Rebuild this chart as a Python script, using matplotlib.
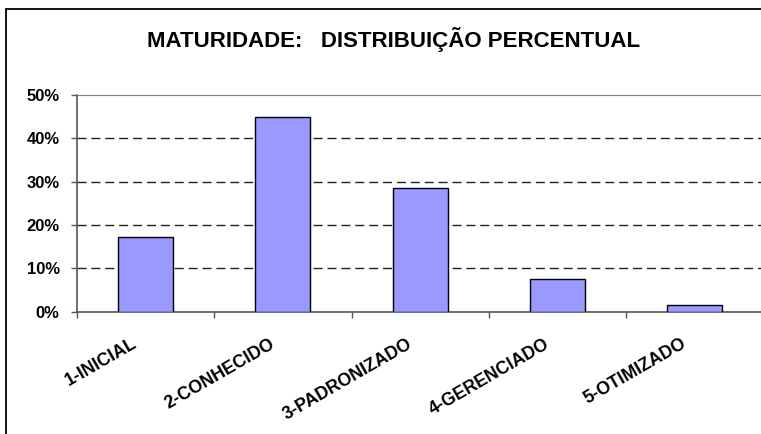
import matplotlib
matplotlib.use("Agg")
import matplotlib.pyplot as plt
from matplotlib.ticker import PercentFormatter, MultipleLocator
from matplotlib.patches import Rectangle

categories = ["1-INICIAL", "2-CONHECIDO", "3-PADRONIZADO", "4-GERENCIADO", "5-OTIMIZADO"]
values = [17.2, 44.9, 28.5, 7.6, 1.5]
title = "MATURIDADE:   DISTRIBUIÇÃO PERCENTUAL"

plt.rcParams['font.family'] = ['Liberation Sans', 'DejaVu Sans']
plt.rcParams['font.weight'] = 'bold'

W, H = 761, 434
fig = plt.figure(figsize=(W / 100, H / 100), dpi=100)
fig.patch.set_facecolor('white')

# outer chart border (extends beyond right/bottom edges)
fig.add_artist(Rectangle((6 / W, -0.2), 2.0, (H - 9) / H + 0.2, transform=fig.transFigure,
                         fill=False, edgecolor='black', linewidth=1.3, clip_on=False))

ax = fig.add_axes([77 / W, (H - 311.7) / H, (763.5 - 77) / W, (311.7 - 95) / H])
x = list(range(len(categories)))
ax.bar(x, values, width=0.4, color='#9999FF', edgecolor='black', linewidth=1.0, zorder=3)

ax.set_xlim(-0.5, len(categories) - 0.5)
ax.set_ylim(0, 50)
ax.yaxis.set_major_locator(MultipleLocator(10))
ax.yaxis.set_major_formatter(PercentFormatter(decimals=0))

for yv in [10, 20, 30, 40]:
    ax.axhline(yv, color='#222222', linewidth=1.0, linestyle=(0, (6.5, 3.5)), zorder=1)

ax.spines['top'].set_color('#808080')
ax.spines['right'].set_visible(False)
ax.spines['left'].set_color('#555555')
ax.spines['bottom'].set_color('#555555')
ax.spines['left'].set_linewidth(1.2)
ax.spines['bottom'].set_linewidth(1.2)

ax.tick_params(axis='y', length=4, width=1, color='#555555', pad=8.5, labelsize=12)
ax.set_xticks([i + 0.5 for i in range(-1, len(categories))])
ax.set_xticklabels([])
ax.tick_params(axis='x', length=4, width=1, color='#555555')
for lbl in ax.get_yticklabels():
    lbl.set_fontweight('bold')

for i, c in enumerate(categories):
    ax.annotate(c, xy=(i, 0), xycoords='data', xytext=(-10, -17), textcoords='offset points',
                rotation=30, rotation_mode='anchor', ha='right', va='top',
                fontsize=12.8, fontweight='bold', annotation_clip=False)

fig.text(394 / W, 1 - 40 / H, title, ha='center', va='center', fontsize=16, fontweight='bold')

fig.savefig('out.png', dpi=100)
